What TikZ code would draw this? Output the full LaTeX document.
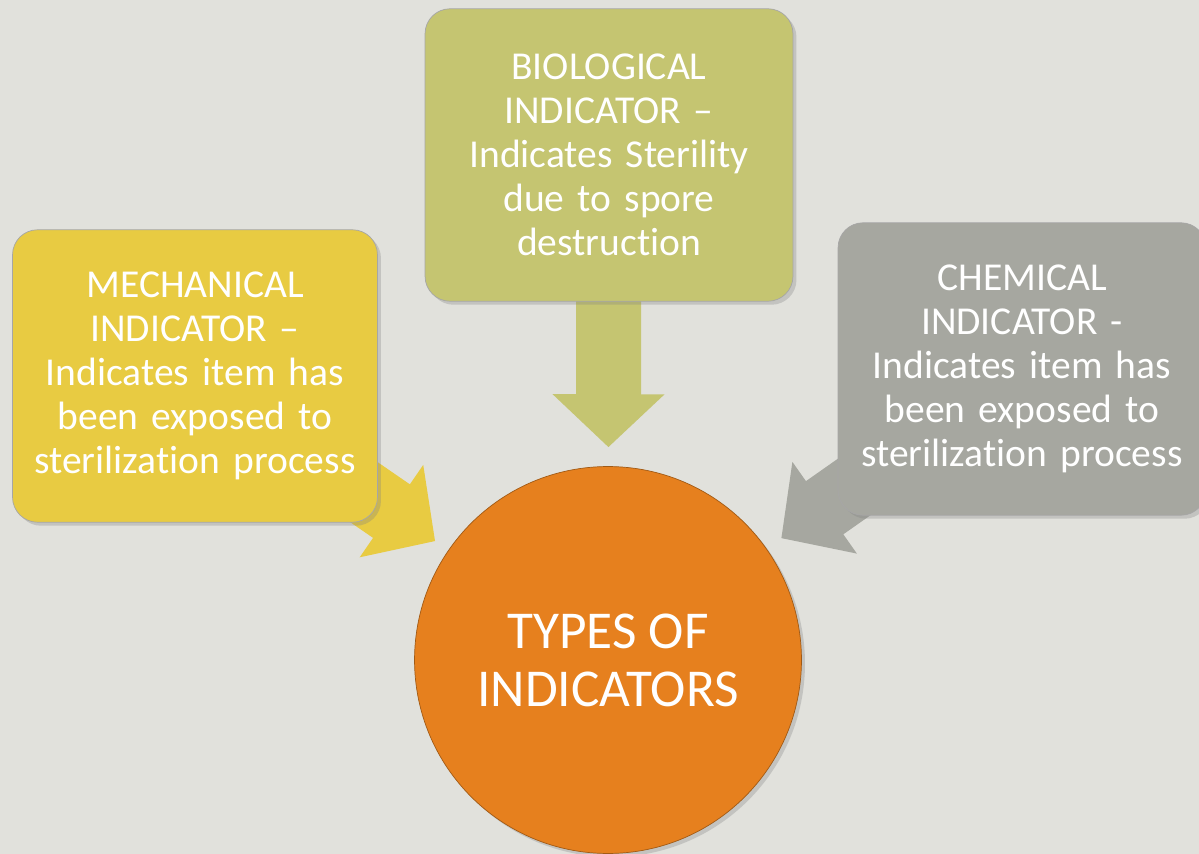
\documentclass[tikz,border=0pt]{standalone}
\usepackage{fontspec}
\setmainfont{Carlito}[Ligatures=NoCommon]
\usetikzlibrary{arrows.meta,shadows,backgrounds}
\definecolor{bggrey}{RGB}{225,225,220}
\definecolor{mechyellow}{RGB}{232,203,66}
\definecolor{bioolive}{RGB}{197,197,113}
\definecolor{chemgrey}{RGB}{166,167,160}
\definecolor{typesorange}{RGB}{230,128,30}
\begin{document}
\begin{tikzpicture}[x=0.02cm,y=-0.02cm,
  indbox/.style={rectangle,rounded corners=0.5cm,inner sep=0pt,
    minimum width=7.3cm,minimum height=5.85cm,text width=7cm,align=center,
    text=white,font=\fontsize{22.5}{25}\selectfont,draw=black!35,
    drop shadow={shadow xshift=2pt,shadow yshift=-2pt,opacity=0.3}},
  hub/.style={circle,minimum size=7.74cm,inner sep=0pt,align=center,
    fill=typesorange,draw=typesorange!70!black,text=white,
    font=\fontsize{30.3}{33}\selectfont,
    drop shadow={shadow xshift=2pt,shadow yshift=-2pt,opacity=0.3}},
  blockarrow/.style={line width=1.3cm,-{Triangle[length=1.06cm,width=2.18cm]}}]
\useasboundingbox (0,0) rectangle (1199,854);
\node[hub] (types) at (608,660) {TYPES OF\\INDICATORS};
\node[indbox,fill=mechyellow] (mech) at (195,376) {MECHANICAL\\INDICATOR --\\Indicates item has\\been exposed to\\sterilization process};
\node[indbox,fill=bioolive,minimum width=7.36cm] (bio) at (609,155) {BIOLOGICAL\\INDICATOR --\\Indicates Sterility\\due to spore\\destruction};
\node[indbox,fill=chemgrey,minimum width=7.36cm] (chem) at (1022,369) {CHEMICAL\\INDICATOR -\\Indicates item has\\been exposed to\\sterilization process};
\begin{scope}[on background layer]
\fill[bggrey] (0,0) rectangle (1199,854);
\draw[blockarrow,mechyellow,shorten >=0.32cm] (mech.center) -- (types);
\draw[blockarrow,bioolive,shorten >=0.38cm] (bio.center) -- (types);
\draw[blockarrow,chemgrey,shorten >=0.36cm] (chem.center) -- (types);
\end{scope}
\end{tikzpicture}
\end{document}
